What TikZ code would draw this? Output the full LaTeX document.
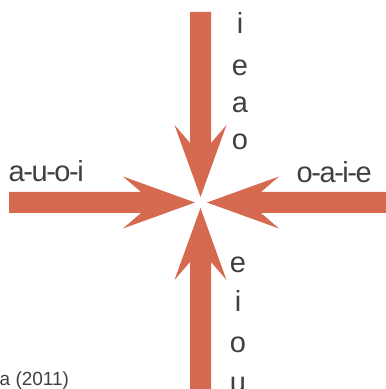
\documentclass[tikz,border=0pt]{standalone}
\usepackage{fontspec}
\setmainfont{Liberation Sans}
\newfontfamily\lblfont[LetterSpace=-5]{Liberation Sans}
\usetikzlibrary{calc}
\definecolor{arrowcol}{RGB}{214,106,80}
\definecolor{txtcol}{RGB}{64,64,64}
\tikzset{
  bigarrow/.style={fill=arrowcol},
  vowel/.style={inner sep=0pt, anchor=base, text=txtcol, font=\fontsize{29}{29}\selectfont},
  seq/.style={inner sep=0pt, text=txtcol, font=\fontsize{29}{29}\lblfont},
  note/.style={inner sep=0pt, anchor=base west, text=txtcol, font=\fontsize{19}{19}\selectfont}
}
\newcommand{\drawbigarrow}[2]{%
  \fill[bigarrow] let \p1=(#1), \p2=(#2), \n1={atan2(\y2-\y1,\x2-\x1)}, \n2={veclen(\x2-\x1,\y2-\y1)} in
    [shift={(\p2)}, rotate=\n1] (0pt,0pt) -- (-72pt,26pt) -- (-54pt,10.5pt) -- (-\n2,10.5pt)
    -- (-\n2,-10.5pt) -- (-54pt,-10.5pt) -- (-72pt,-26pt) -- cycle;}
\begin{document}
\begin{tikzpicture}[x=1pt,y=1pt]
\useasboundingbox (0,0) rectangle (386,389);
% arrow end points
\coordinate (topS) at (200.5,377);
\coordinate (topT) at (200.5,192);
\coordinate (botS) at (200.5,-2);
\coordinate (botT) at (200.5,181);
\coordinate (lefS) at (9,186.5);
\coordinate (lefT) at (195,186.5);
\coordinate (rigS) at (388,186.5);
\coordinate (rigT) at (207,186.5);
\drawbigarrow{topS}{topT}
\drawbigarrow{botS}{botT}
\drawbigarrow{lefS}{lefT}
\drawbigarrow{rigS}{rigT}
% labels
\node[seq, anchor=base west] (lefL) at (8.5,207) {a-u-o-i};
\node[seq, anchor=base east] (rigL) at (372,206) {o-a-i-e};
\node[vowel] (t1) at (240,355) {i};
\node[vowel] (t2) at (240,313) {e};
\node[vowel] (t3) at (240,276) {a};
\node[vowel] (t4) at (240,239) {o};
\node[vowel] (b1) at (238,116) {e};
\node[vowel] (b2) at (238,77) {i};
\node[vowel] (b3) at (238,36) {o};
\node[vowel] (b4) at (238,-3) {u};
\node[note] (src) at (-0.5,4) {a (2011)};
\end{tikzpicture}
\end{document}
